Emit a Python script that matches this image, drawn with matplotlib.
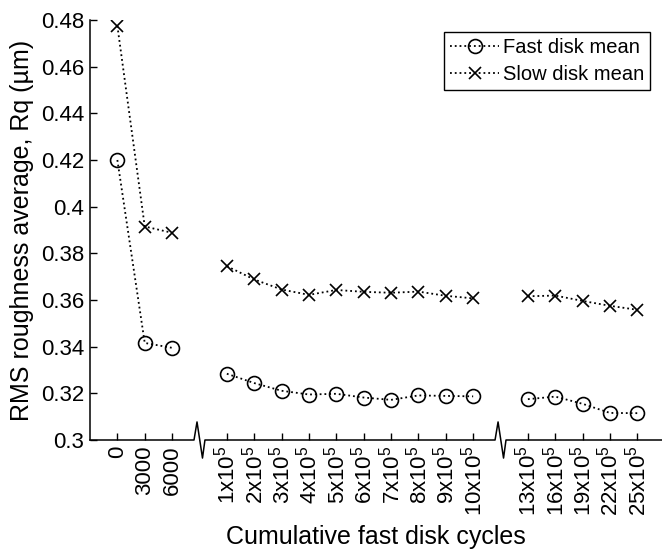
import matplotlib.pyplot as plt

plt.rcParams['font.family'] = ['Liberation Sans', 'DejaVu Sans']
plt.rcParams['mathtext.fontset'] = 'custom'
plt.rcParams['mathtext.rm'] = 'Liberation Sans'
plt.rcParams['mathtext.it'] = 'Liberation Sans:italic'
plt.rcParams['mathtext.bf'] = 'Liberation Sans:bold'

# three groups of cycle counts, separated by axis breaks
group1_labels = ['0', '3000', '6000']
group2_labels = [f'{k}x10$^5$' for k in [1, 2, 3, 4, 5, 6, 7, 8, 9, 10]]
group3_labels = [f'{k}x10$^5$' for k in [13, 16, 19, 22, 25]]

fast_g1 = [0.420, 0.3416, 0.3395]
fast_g2 = [0.3284, 0.3244, 0.3211, 0.3195, 0.3198, 0.3182, 0.3172, 0.3191, 0.3189, 0.3187]
fast_g3 = [0.3175, 0.3186, 0.3155, 0.3116, 0.3115]

slow_g1 = [0.4775, 0.3915, 0.3888]
slow_g2 = [0.3745, 0.3688, 0.3645, 0.3622, 0.3643, 0.3635, 0.3631, 0.3636, 0.3618, 0.3607]
slow_g3 = [0.3616, 0.3619, 0.3596, 0.3575, 0.3558]

groups = [
    (group1_labels, fast_g1, slow_g1),
    (group2_labels, fast_g2, slow_g2),
    (group3_labels, fast_g3, slow_g3),
]

fig = plt.figure(figsize=(6.62, 5.53), dpi=100)
ax = fig.add_axes([90 / 662, 113 / 553, 572 / 662, 420 / 553])

ticks, tick_labels, breaks = [], [], []
pos = 0
for i, (labels, fast, slow) in enumerate(groups):
    xs = list(range(pos, pos + len(labels)))
    ax.plot(xs, fast, linestyle=':', color='black', linewidth=1.3, marker='o',
            markersize=10, markerfacecolor='none', markeredgewidth=1.2,
            label='Fast disk mean' if i == 0 else None)
    ax.plot(xs, slow, linestyle=':', color='black', linewidth=1.3, marker='x',
            markersize=8, markeredgewidth=1.2,
            label='Slow disk mean' if i == 0 else None)
    ticks += xs
    tick_labels += labels
    pos += len(labels)
    if i < len(groups) - 1:
        breaks.append(pos)
        pos += 1

ax.set_xlim(-1, 19.9)
ax.set_ylim(0.3, 0.48)
ax.set_xticks(ticks)
ax.set_xticklabels(tick_labels, rotation=90, fontsize=16)
yt = [0.3 + 0.02 * k for k in range(10)]
ax.set_yticks(yt)
ax.set_yticklabels([f'{v:g}' for v in [round(t, 2) for t in yt]], fontsize=16)
ax.tick_params(direction='in', length=5, width=1, pad=4)

for side in ['top', 'right', 'bottom']:
    ax.spines[side].set_visible(False)
ax.spines['left'].set_linewidth(1.1)

# bottom axis line with zigzag break marks
h = 0.043
bx, by = [-1], [0]
for b in breaks:
    bx += [b - 0.2, b - 0.09, b + 0.11, b + 0.2]
    by += [0, h, -h, 0]
bx.append(19.9)
by.append(0)
ax.plot(bx, by, color='black', linewidth=1.1, transform=ax.get_xaxis_transform(),
        clip_on=False)

ax.set_xlabel('Cumulative fast disk cycles', fontsize=18, labelpad=6)
ax.set_ylabel('RMS roughness average, Rq (µm)', fontsize=18, labelpad=5)

ax.legend(loc='upper right', bbox_to_anchor=(0.979, 0.971), fontsize=14.5,
          fancybox=False, framealpha=1, edgecolor='black', handlelength=2.4,
          handletextpad=0.2, borderpad=0.3, labelspacing=0.4, borderaxespad=0)

fig.savefig('out.png', dpi=100)
